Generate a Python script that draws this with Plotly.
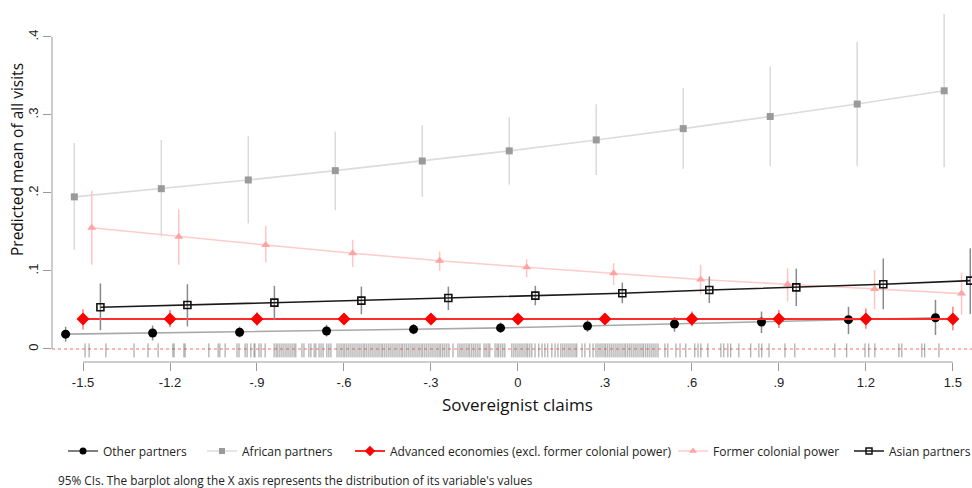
import plotly.graph_objects as go

# ---------------- data ----------------
x_levels = [-1.5, -1.2, -0.9, -0.6, -0.3, 0.0, 0.3, 0.6, 0.9, 1.2, 1.5]
x_ticktext = ["-1.5", "-1.2", "-.9", "-.6", "-.3", "0", ".3", ".6", ".9", "1.2", "1.5"]
y_tickvals = [0, 0.1, 0.2, 0.3, 0.4]
y_ticktext = ["0", ".1", ".2", ".3", ".4"]

other = [0.019, 0.0205, 0.0214, 0.023, 0.0252, 0.027, 0.0295, 0.032, 0.0346, 0.0376, 0.040]
other_lo = [0.0094, 0.011, 0.015, 0.016, 0.0188, 0.021, 0.022, 0.022, 0.0205, 0.019, 0.018]
other_hi = [0.0286, 0.030, 0.0286, 0.031, 0.0317, 0.034, 0.037, 0.041, 0.048, 0.054, 0.063]

african = [0.195, 0.2055, 0.2167, 0.2286, 0.241, 0.254, 0.268, 0.2825, 0.298, 0.314, 0.331]
african_lo = [0.127, 0.144, 0.161, 0.178, 0.195, 0.211, 0.223, 0.231, 0.2346, 0.235, 0.233]
african_hi = [0.264, 0.268, 0.273, 0.2786, 0.2868, 0.297, 0.3137, 0.335, 0.362, 0.3936, 0.4295]

advanced = [0.0385, 0.0385, 0.0385, 0.0385, 0.0385, 0.0385, 0.0385, 0.0385, 0.0385, 0.0385, 0.0385]
advanced_lo = [0.025, 0.028, 0.030, 0.032, 0.034, 0.035, 0.034, 0.029, 0.027, 0.026, 0.024]
advanced_hi = [0.051, 0.050, 0.047, 0.045, 0.043, 0.042, 0.043, 0.048, 0.050, 0.052, 0.054]

former = [0.1555, 0.144, 0.1333, 0.1227, 0.1132, 0.1047, 0.097, 0.089, 0.083, 0.077, 0.071]
former_lo = [0.108, 0.108, 0.111, 0.105, 0.100, 0.092, 0.082, 0.0705, 0.0607, 0.051, 0.044]
former_hi = [0.203, 0.179, 0.158, 0.140, 0.125, 0.115, 0.110, 0.108, 0.1035, 0.101, 0.098]

asian = [0.0534, 0.0564, 0.0594, 0.062, 0.0654, 0.0684, 0.0714, 0.0756, 0.079, 0.083, 0.0876]
asian_lo = [0.024, 0.029, 0.037, 0.0445, 0.050, 0.056, 0.0586, 0.059, 0.055, 0.051, 0.045]
asian_hi = [0.084, 0.083, 0.081, 0.080, 0.080, 0.081, 0.085, 0.093, 0.103, 0.116, 0.129]

# observed values of sovereignist claims (rug)
rug_values = [
    -1.493, -1.479, -1.421, -1.324, -1.276, -1.241, -1.190, -1.186, -1.152, -1.148,
    -1.066, -1.034, -1.028, -1.010, -0.969, -0.962, -0.941, -0.934, -0.921, -0.910,
    -0.907, -0.893, -0.886, -0.872, -0.841, -0.834, -0.828, -0.821, -0.814, -0.807,
    -0.800, -0.793, -0.786, -0.779, -0.772, -0.766, -0.745, -0.738, -0.721, -0.714,
    -0.703, -0.697, -0.686, -0.679, -0.672, -0.659, -0.652, -0.645,
    -0.624, -0.617, -0.610, -0.603, -0.597, -0.590, -0.583, -0.576, -0.569, -0.562,
    -0.555, -0.548, -0.541, -0.534, -0.528, -0.521, -0.514, -0.507, -0.500, -0.493,
    -0.486, -0.479, -0.472, -0.466, -0.459, -0.452, -0.445, -0.438, -0.431, -0.424,
    -0.417, -0.410, -0.403, -0.397, -0.390, -0.383, -0.376, -0.369, -0.362, -0.355,
    -0.348, -0.341, -0.334, -0.328, -0.321, -0.314, -0.307, -0.300, -0.293, -0.286,
    -0.279, -0.272, -0.266, -0.259, -0.252, -0.245, -0.238, -0.224,
    -0.207, -0.200, -0.193, -0.186, -0.179, -0.172, -0.166, -0.159, -0.152, -0.145,
    -0.138, -0.131, -0.117, -0.110, -0.103, -0.097, -0.079, -0.072, -0.066, -0.059,
    -0.052, -0.045, -0.021, -0.014, -0.007, 0.000, 0.007, 0.014, 0.021, 0.028,
    0.034, 0.041, 0.048, 0.059, 0.072, 0.083, 0.093, 0.103, 0.117, 0.128, 0.138,
    0.148, 0.155, 0.162, 0.169, 0.176, 0.183, 0.190, 0.197, 0.203, 0.221, 0.231,
    0.248, 0.259, 0.269, 0.276, 0.283, 0.290, 0.297, 0.303, 0.310, 0.317, 0.324,
    0.331, 0.338, 0.345, 0.352, 0.359, 0.366, 0.372, 0.379, 0.386, 0.393, 0.400,
    0.407, 0.414, 0.421, 0.428, 0.434, 0.441, 0.448, 0.455, 0.462, 0.469, 0.476,
    0.483, 0.507, 0.517, 0.545, 0.559, 0.579, 0.610, 0.621, 0.631, 0.655, 0.700,
    0.710, 0.724, 0.734, 0.762, 0.803, 0.831, 0.841, 0.866, 0.921, 0.955, 1.093,
    1.134, 1.197, 1.210, 1.231, 1.314, 1.324, 1.393, 1.403, 1.452,
]

series_names = [
    "Other partners",
    "African partners",
    "Advanced economies (excl. former colonial power)",
    "Former colonial power",
    "Asian partners",
]
footnote = "95% CIs. The barplot along the X axis represents the distribution of its variable's values"
x_title = "Sovereignist claims"
y_title = "Predicted mean of all visits"

# ---------------- styles ----------------
TXT = "'Open Sans', Lato, sans-serif"
TICKF = "'Liberation Sans', Arial, sans-serif"

styles = [
    dict(y=other, lo=other_lo, hi=other_hi, dx=-0.06,
         marker=dict(symbol="circle", size=9, color="#000000"),
         lmarker=dict(symbol="circle", size=7, color="#000000"),
         line=dict(color="#a8a8a8", width=1.6), lline=dict(color="#555555", width=1.6),
         err="#8a8a8a", key_px=70),
    dict(y=african, lo=african_lo, hi=african_hi, dx=-0.03,
         marker=dict(symbol="square", size=7, color="#9a9a9a"),
         lmarker=dict(symbol="square", size=6, color="#9a9a9a"),
         line=dict(color="#dcdcdc", width=1.6), lline=dict(color="#dcdcdc", width=1.6),
         err="#dadada", key_px=209),
    dict(y=advanced, lo=advanced_lo, hi=advanced_hi, dx=0.0,
         marker=dict(symbol="diamond", size=10, color="#ff0000"),
         lmarker=dict(symbol="diamond", size=8, color="#ff0000"),
         line=dict(color="#ff2a2a", width=2), lline=dict(color="#ff2a2a", width=2),
         err="#ff7a7a", key_px=357),
    dict(y=former, lo=former_lo, hi=former_hi, dx=0.03,
         marker=dict(symbol="triangle-up", size=8, color="#ffa3a3"),
         lmarker=dict(symbol="triangle-up", size=7, color="#ffa3a3"),
         line=dict(color="#ffcccc", width=1.6), lline=dict(color="#ffcccc", width=1.6),
         err="#ffc4c4", key_px=680),
    dict(y=asian, lo=asian_lo, hi=asian_hi, dx=0.06,
         marker=dict(symbol="square-open", size=7, color="#111111", line=dict(width=1.6)),
         lmarker=dict(symbol="square-open", size=6, color="#111111", line=dict(width=1.5)),
         line=dict(color="#1a1a1a", width=1.6), lline=dict(color="#1a1a1a", width=1.6),
         err="#8a8a8a", key_px=856),
]

PLOT_L, PLOT_W, PLOT_H = 52, 920, 362

fig = go.Figure()

# rug plot along x axis
fig.add_trace(go.Scatter(
    x=rug_values, y=[-0.0018] * len(rug_values), mode="markers",
    marker=dict(symbol="line-ns", size=10, line=dict(width=1, color="rgba(110,110,110,0.7)")),
    showlegend=False, hoverinfo="skip",
))

for name, st in zip(series_names, styles):
    xs = [v + st["dx"] for v in x_levels]
    fig.add_trace(go.Scatter(
        x=xs, y=st["y"], name=name, mode="lines+markers",
        line=st["line"], marker=st["marker"], showlegend=False,
        error_y=dict(type="data", symmetric=False,
                     array=[h - m for h, m in zip(st["hi"], st["y"])],
                     arrayminus=[m - l for l, m in zip(st["lo"], st["y"])],
                     color=st["err"], thickness=1.5, width=0),
    ))

# legend entries, one legend box per key so they sit where the original keys are
legend_layouts = {}
for i, (name, st) in enumerate(zip(series_names, styles)):
    lname = "legend" if i == 0 else f"legend{i + 1}"
    fig.add_trace(go.Scatter(
        x=[None], y=[None], name=name, mode="lines+markers",
        line=st["lline"], marker=st["lmarker"], showlegend=True, legend=lname,
    ))
    legend_layouts[lname] = dict(
        orientation="h", x=(st["key_px"] - 7 - PLOT_L) / PLOT_W, y=1 - 451 / PLOT_H,
        xanchor="left", yanchor="middle",
        font=dict(family=TXT, size=12, color="#222"),
        itemwidth=30, bgcolor="rgba(0,0,0,0)",
    )

fig.update_layout(
    width=972, height=488,
    margin=dict(l=PLOT_L, r=0, t=0, b=488 - PLOT_H, autoexpand=False),
    paper_bgcolor="white", plot_bgcolor="white",
    font=dict(family=TXT, color="#222"),
    xaxis=dict(range=[-1.607, 1.566], tickvals=x_levels, ticktext=x_ticktext,
               showgrid=False, zeroline=False, showline=False,
               ticks="outside", ticklen=8, tickcolor="#9a9a9a", tickwidth=1,
               tickfont=dict(family=TICKF, size=13, color="#222")),
    yaxis=dict(range=[-0.0167, 0.4474], tickvals=y_tickvals, ticktext=y_ticktext,
               showgrid=False, zeroline=False, showline=False,
               ticks="outside", ticklen=8, tickcolor="#9a9a9a", tickwidth=1,
               tickangle=-90,
               tickfont=dict(family=TICKF, size=13, color="#222")),
    shapes=[
        dict(type="line", xref="paper", yref="y", x0=0, x1=1, y0=0, y1=0,
             line=dict(color="#ff9a9a", width=1.5, dash="dot"), layer="below"),
        dict(type="line", xref="paper", yref="y", x0=0, x1=0, y0=0, y1=0.4,
             line=dict(color="#9a9a9a", width=1)),
        dict(type="line", xref="x", yref="paper", x0=-1.5, x1=1.5, y0=0, y1=0,
             line=dict(color="#9a9a9a", width=1)),
    ],
    annotations=[
        dict(text=x_title, xref="paper", yref="paper", x=(517 - PLOT_L) / PLOT_W, y=1 - 404 / PLOT_H,
             xanchor="center", yanchor="middle", showarrow=False,
             font=dict(family=TXT, size=17, color="#111")),
        dict(text=y_title, xref="paper", yref="paper", x=(17 - PLOT_L) / PLOT_W, y=1 - 160 / PLOT_H,
             xanchor="center", yanchor="middle", textangle=-90, showarrow=False,
             font=dict(family=TXT, size=15.5, color="#111")),
        dict(text=footnote, xref="paper", yref="paper", x=(56 - PLOT_L) / PLOT_W, y=1 - 480 / PLOT_H,
             xanchor="left", yanchor="middle", showarrow=False,
             font=dict(family=TXT, size=11.8, color="#222")),
    ],
    **legend_layouts,
)

fig.write_html("out.html")
